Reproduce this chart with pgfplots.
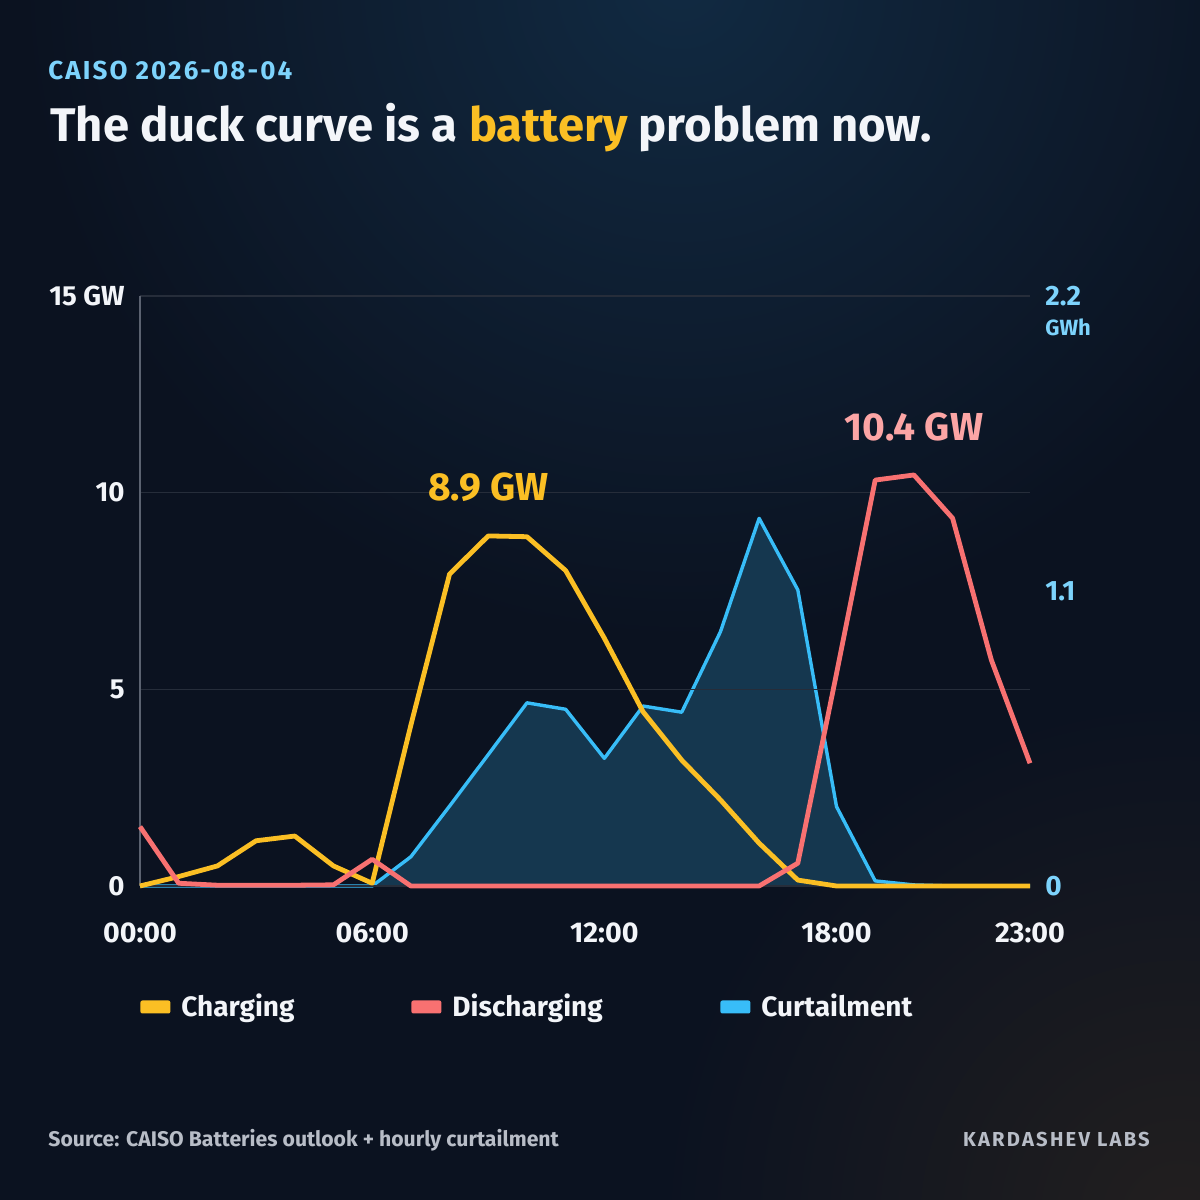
\documentclass[border=0pt]{standalone}
\usepackage{pgfplots}
\pgfplotsset{compat=1.18}
\usepackage{fontspec}
\setmainfont{Fira Sans}
\newfontfamily\spaced[LetterSpace=8]{Fira Sans}
\newfontfamily\spacedb[LetterSpace=11]{Fira Sans}
\definecolor{bgc}{HTML}{0B1220}
\definecolor{glowa}{HTML}{112A42}
\definecolor{glowb}{HTML}{221F1F}
\definecolor{cyel}{HTML}{FBBF24}
\definecolor{cred}{HTML}{F87171}
\definecolor{credl}{HTML}{FCA5A5}
\definecolor{cblue}{HTML}{38BDF8}
\definecolor{cbluel}{HTML}{7DD3FC}
\definecolor{cfill}{HTML}{15374F}
\definecolor{gridc}{HTML}{262D3A}
\definecolor{axc}{HTML}{5B6270}
\definecolor{txt}{HTML}{F3F5F9}
\definecolor{foot}{HTML}{B8BDC7}
\begin{document}
\begin{tikzpicture}
\useasboundingbox (0,0) rectangle (600pt,600pt);
\fill[bgc] (0,0) rectangle (600pt,600pt);
\begin{scope}
\clip (0,0) rectangle (600pt,600pt);
\shade[inner color=glowa, outer color=bgc] (340pt,610pt) circle (330pt);
\shade[inner color=glowb, outer color=bgc] (590pt,-10pt) circle (260pt);
\end{scope}
% titles
\node[anchor=base west, inner sep=0pt, text=cbluel, font=\spaced\bfseries\fontsize{13}{15}\selectfont] at (24pt,560pt) {CAISO 2026-08-04};
\node[anchor=base west, inner sep=0pt, text=txt, font=\bfseries\fontsize{23.6}{28}\selectfont] at (25pt,529pt) {The duck curve is a \textcolor{cyel}{battery} problem now.};
\node[anchor=base west, inner sep=0pt, text=foot, font=\bfseries\fontsize{10.6}{12}\selectfont] at (24pt,27pt) {Source: CAISO Batteries outlook + hourly curtailment};
\node[anchor=base east, inner sep=0pt, text=foot, font=\spacedb\bfseries\fontsize{10.1}{12}\selectfont] at (575pt,27pt) {KARDASHEV LABS};
% right axis: curtailment
\begin{axis}[
  scale only axis, width=445pt, height=295pt,
  at={(70pt,157pt)}, anchor=south west,
  xmin=0, xmax=23, ymin=0, ymax=2.2,
  axis x line=none,
  axis y line*=right,
  y axis line style={draw=none},
  xtick=\empty,
  ytick={0,1.1,2.2},
  yticklabels={0,1.1,2.2},
  major tick length=0pt,
  yticklabel style={anchor=west, inner sep=0pt, xshift=7.5pt, text=cbluel, font=\bfseries\fontsize{14}{16}\selectfont},
  clip=false,
]
\addplot[fill=cfill, draw=none] coordinates {
(0,0) (1,0) (2,0) (3,0) (4,0) (5,0) (6,0) (7,0.109) (8,0.298) (9,0.49) (10,0.683) (11,0.659) (12,0.476) (13,0.671) (14,0.648) (15,0.948) (16,1.371) (17,1.104) (18,0.296) (19,0.019) (20,0.004) (21,0) (22,0) (23,0)
} \closedcycle;
\addplot[cblue, line width=1.7pt, line join=round] coordinates {
(0,0) (1,0) (2,0) (3,0) (4,0) (5,0) (6,0) (7,0.109) (8,0.298) (9,0.49) (10,0.683) (11,0.659) (12,0.476) (13,0.671) (14,0.648) (15,0.948) (16,1.371) (17,1.104) (18,0.296) (19,0.019) (20,0.004) (21,0) (22,0) (23,0)
};
\node[anchor=north west, inner sep=0pt, text=cbluel, font=\bfseries\fontsize{11}{13}\selectfont] at (rel axis cs:1,1) [xshift=7.5pt, yshift=-11pt] {GWh};
\end{axis}
% left axis: charging / discharging
\begin{axis}[
  scale only axis, width=445pt, height=295pt,
  at={(70pt,157pt)}, anchor=south west,
  xmin=0, xmax=23, ymin=0, ymax=15,
  axis x line*=bottom,
  axis y line*=left,
  x axis line style={draw=none},
  y axis line style={draw=axc, line width=0.6pt},
  xtick={0,6,12,18,23},
  xticklabels={00:00,06:00,12:00,18:00,23:00},
  ytick={0,5,10,15},
  yticklabels={0,5,10,15 GW},
  major tick length=0pt,
  ymajorgrids,
  grid style={draw=gridc, line width=0.7pt},
  yticklabel style={anchor=east, inner sep=0pt, xshift=-7.5pt, text=txt, font=\bfseries\fontsize{13.8}{15}\selectfont},
  xticklabel style={anchor=north, inner sep=0pt, yshift=-18pt, text=txt, font=\bfseries\fontsize{14.3}{16}\selectfont},
  clip=false,
  legend columns=3,
  legend style={at={(0,0)}, anchor=west, yshift=-60.5pt, xshift=0pt, draw=none, fill=none, text=txt, inner sep=0pt, font=\bfseries\fontsize{14}{16}\selectfont, nodes={inner sep=0pt}, /tikz/every even column/.append style={column sep=0pt}},
  legend image code/.code={\fill[#1, draw=none, rounded corners=1pt] (0pt,-3.25pt) rectangle (15pt,3.25pt);},
]
\addplot[cyel, line width=2.4pt, line join=round] coordinates {
(0,0) (1,0.24) (2,0.51) (3,1.15) (4,1.27) (5,0.51) (6,0.07) (7,4.09) (8,7.93) (9,8.9) (10,8.88) (11,8.02) (12,6.3) (13,4.43) (14,3.2) (15,2.19) (16,1.09) (17,0.15) (18,0) (19,0) (20,0) (21,0) (22,0) (23,0)
};
\addlegendentry{\hspace{5.5pt}\makebox[115pt][l]{Charging}}
\addplot[cred, line width=2.4pt, line join=round] coordinates {
(0,1.51) (1,0.07) (2,0.02) (3,0.02) (4,0.02) (5,0.03) (6,0.68) (7,0) (8,0) (9,0) (10,0) (11,0) (12,0) (13,0) (14,0) (15,0) (16,0) (17,0.58) (18,5.4) (19,10.32) (20,10.45) (21,9.35) (22,5.75) (23,3.12)
};
\addlegendentry{\hspace{5.5pt}\makebox[134pt][l]{Discharging}}
\addlegendimage{cblue}
\addlegendentry{\hspace{5.5pt}Curtailment}
\node[text=cyel, font=\bfseries\fontsize{19.5}{22}\selectfont] at (axis cs:9,10.14) {8.9 GW};
\node[text=credl, font=\bfseries\fontsize{19.5}{22}\selectfont] at (axis cs:20,11.67) {10.4 GW};
\end{axis}
\end{tikzpicture}
\end{document}
